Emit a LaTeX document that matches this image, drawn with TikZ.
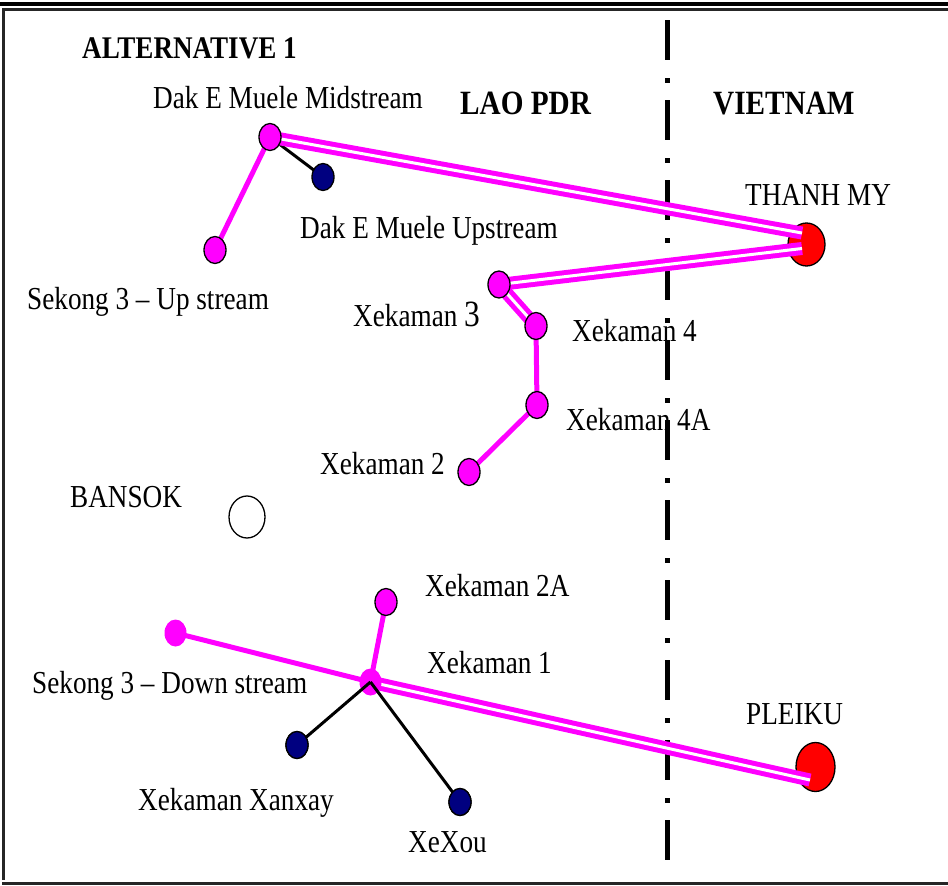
\documentclass[tikz,border=0pt]{standalone}
\usepackage{fontspec}
\setmainfont{Liberation Serif}[FakeStretch=0.85]
\newfontfamily\titlefont{Liberation Serif}[FakeStretch=0.86]
\usetikzlibrary{shapes.geometric}
\definecolor{mag}{RGB}{255,0,255}
\definecolor{nav}{RGB}{0,0,128}
\definecolor{rd}{RGB}{255,0,0}
\tikzset{
  plant/.style={ellipse, inner sep=0pt, minimum width=22, minimum height=27, line width=1.3pt},
  mplant/.style={plant, fill=mag, draw=black},
  mplantbare/.style={plant, fill=mag},
  nplant/.style={plant, fill=nav, draw=black},
  rplant/.style={ellipse, inner sep=0pt, fill=rd, draw=black, line width=1.3pt},
  single/.style={draw=mag, line width=5pt},
  twin/.style={draw=mag, line width=5pt, double=white, double distance=3pt},
  blk/.style={draw=black, line width=3pt},
  lbl/.style={font=\fontsize{32}{36}\selectfont, inner sep=0pt, anchor=base west},
  ttl/.style={font=\titlefont\bfseries\fontsize{31.5}{34}\selectfont, inner sep=0pt, anchor=base west},
  ttlbig/.style={font=\titlefont\bfseries\fontsize{34}{38}\selectfont, inner sep=0pt, anchor=base west},
  border/.style={draw=black, line width=3pt},
  divider/.style={draw=black, line width=5pt, dash pattern=on 40pt off 18pt on 5pt off 17pt}
}
\begin{document}
\begin{tikzpicture}[x=1pt, y=-1pt]
\useasboundingbox (0,0) rectangle (948,886);
\fill[white] (0,0) rectangle (948,886);
% frame
\draw[draw=black, line width=4pt] (0,3.5) -- (948,3.5);
\draw[border, draw=black!85] (3.5,880) -- (3.5,9.5) -- (948,9.5);
\draw[border, draw=black!85] (2,883.5) -- (948,883.5);
% border divider
\coordinate (dtop) at (667,20);
\coordinate (dbot) at (667,866);
\draw[divider] (dtop) -- (dbot);

% big nodes
\node[rplant, minimum width=37, minimum height=43] (thanhmy) at (806.5,244.5) {};
\node[rplant, minimum width=39, minimum height=49] (pleiku) at (815.5,767) {};
\node[plant, fill=white, draw=black, minimum width=36, minimum height=42] (bansok) at (247,517) {};

% coordinates for line ends inside the red nodes
\coordinate (tmA) at (802,233);
\coordinate (tmB) at (802,248.5);
\coordinate (plA) at (810,780);

% node positions
\coordinate (pMid) at (270,137);
\coordinate (pUp) at (323,177);
\coordinate (pSk3u) at (215,250);
\coordinate (pX3) at (499,284.5);
\coordinate (pX4) at (536,326);
\coordinate (pX4A) at (537,405);
\coordinate (pX2) at (469,472);
\coordinate (pX2A) at (386,602);
\coordinate (pX1) at (370.5,682);
\coordinate (pSk3d) at (175.5,633);
\coordinate (pXan) at (297,745);
\coordinate (pXeX) at (460,802);

% connectors (drawn under small nodes)
\draw[blk] (pMid) -- (pUp);
\draw[single] (pMid) -- (pSk3u);
\draw[twin] (pMid) -- (tmA);
\draw[twin] (pX3) -- (tmB);
\draw[twin] (pX3) -- (pX4);
\draw[single] (pX4) -- (pX4A);
\draw[single] (pX4A) -- (pX2);
\draw[single] (pX2A) -- (pX1);
\draw[single] (pSk3d) -- (pX1);
\draw[twin] (pX1) -- (plA);

% small nodes
\node[mplant] (mid) at (pMid) {};
\node[nplant] (up) at (pUp) {};
\node[mplant] (sk3u) at (pSk3u) {};
\node[mplant] (x3) at (pX3) {};
\node[mplant] (x4) at (pX4) {};
\node[mplant] (x4a) at (pX4A) {};
\node[mplant] (x2) at (pX2) {};
\node[mplant] (x2a) at (pX2A) {};
\node[mplantbare] (x1) at (pX1) {};
\node[mplantbare] (sk3d) at (pSk3d) {};
\node[nplant] (xan) at (pXan) {};
\node[nplant] (xex) at (pXeX) {};

% black links from Xekaman 1
\draw[blk] (x1.center) -- (xan.center);
\draw[blk] (x1.center) -- (xex.center);
\node[nplant] at (pXan) {};
\node[nplant] at (pXeX) {};

% labels
\node[ttl] (alt) at (82,58) {ALTERNATIVE 1};
\node[ttlbig] (lao) at (460,114) {LAO PDR};
\node[ttlbig] (vn) at (713,114) {VIETNAM};
\node[lbl] (lmid) at (153,108) {Dak E Muele Midstream};
\node[lbl] (ltm) at (745,205) {THANH MY};
\node[lbl] (lup) at (300,238) {Dak E Muele Upstream};
\node[lbl] (lsk3u) at (27,309) {Sekong 3 – Up stream};
\node[lbl] (lx3) at (353,326) {Xekaman {\fontsize{37}{40}\selectfont 3}};
\node[lbl] (lx4) at (572,341) {Xekaman 4};
\node[lbl] (lx4a) at (566,430) {Xekaman 4A};
\node[lbl] (lx2) at (320,474) {Xekaman 2};
\node[lbl] (lban) at (70,507) {BANSOK};
\node[lbl] (lx2a) at (425,596) {Xekaman 2A};
\node[lbl] (lx1) at (427,673) {Xekaman 1};
\node[lbl] (lsk3d) at (32,693) {Sekong 3 – Down stream};
\node[lbl] (lpl) at (746,724) {PLEIKU};
\node[lbl] (lxan) at (138,810) {Xekaman Xanxay};
\node[lbl] (lxex) at (408,852) {XeXou};
\end{tikzpicture}
\end{document}
